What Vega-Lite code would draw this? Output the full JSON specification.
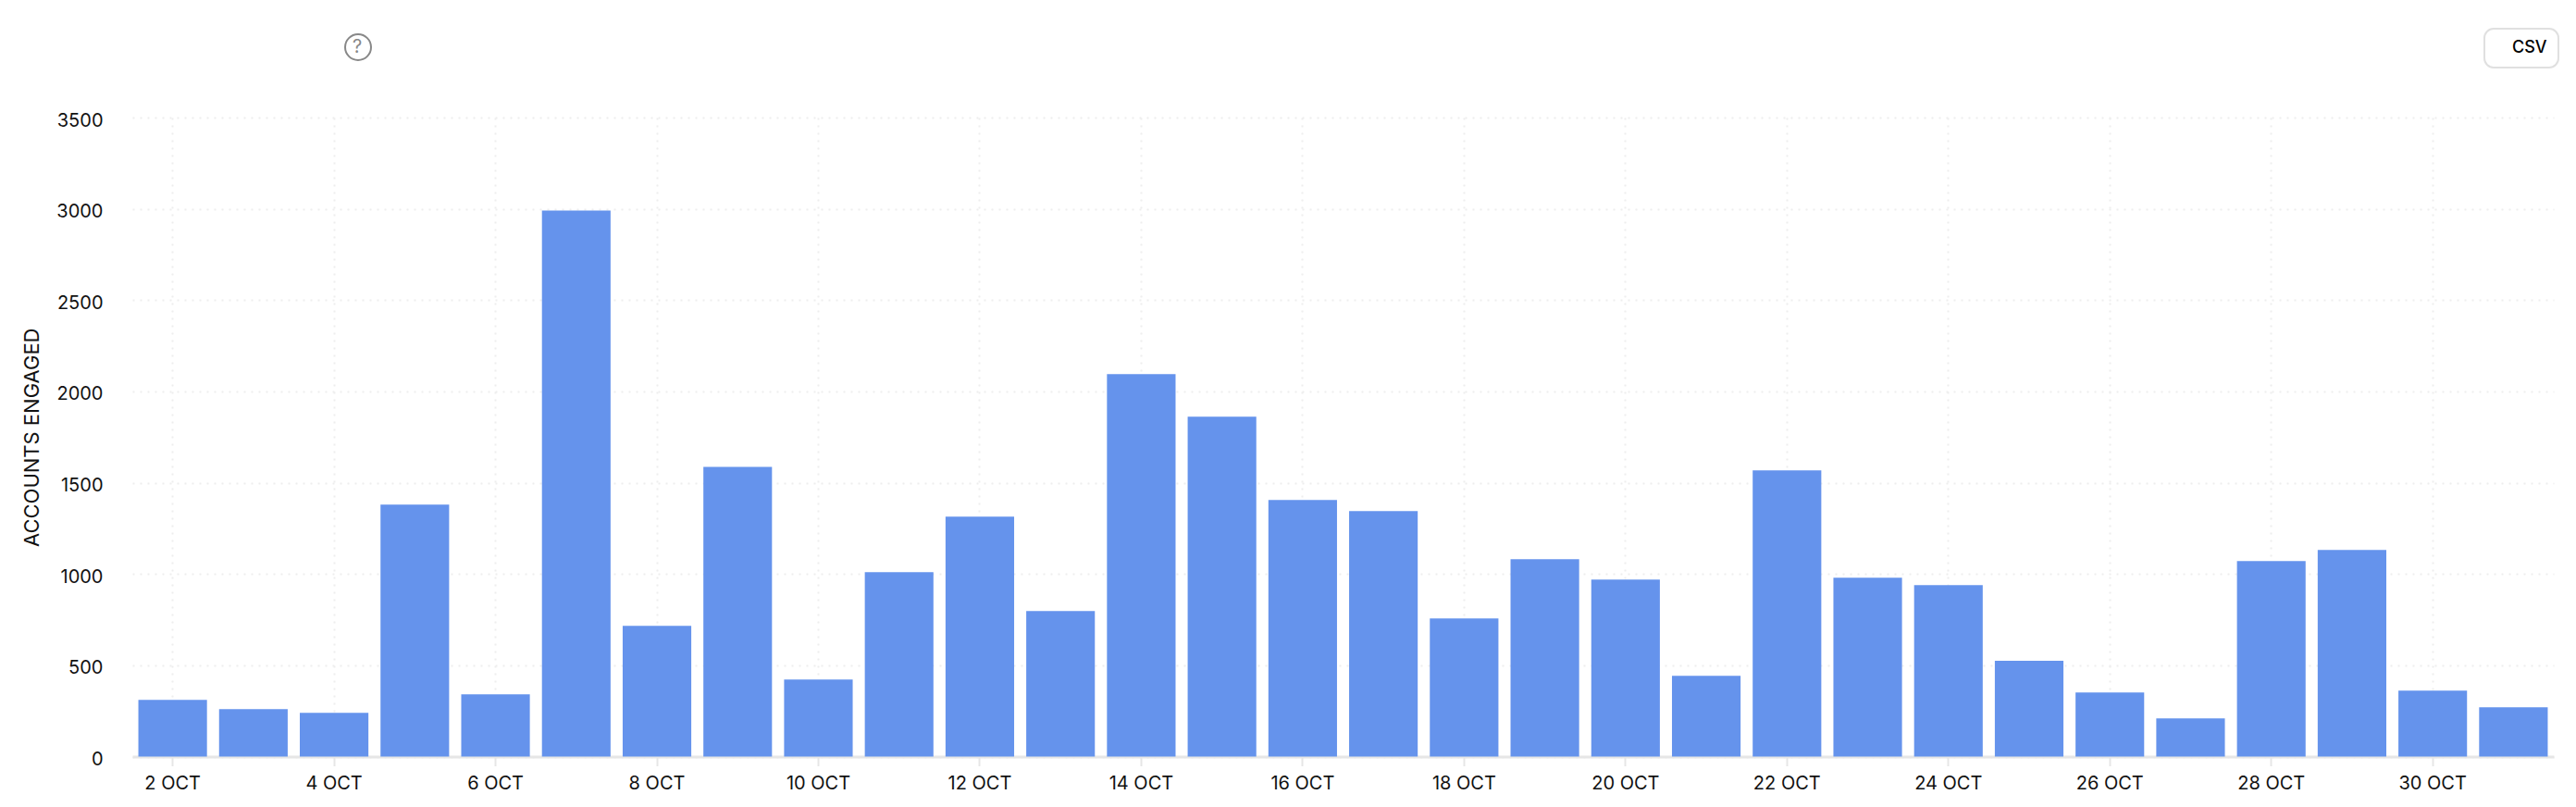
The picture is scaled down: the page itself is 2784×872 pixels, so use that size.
{"width":2617,"height":690.5,"autosize":"none","padding":{"left":143,"top":127,"right":24,"bottom":54},"background":"white",
"config":{"legend":{"strokeWidth":2},"view":{"stroke":null}},
"title":{"text":"Accounts Engaged","anchor":"start","frame":"group","baseline":"alphabetic","offset":0,"dx":-133,"dy":-66,"font":"Inter","fontSize":36,"fontWeight":600,"color":"#000000"},
"data":{"values":[
{"date":"2 OCT","v":311,"button":"CSV","help":"?","range":"2 Oct 2023 → 31 Oct 2023"},{"date":"3 OCT","v":260,"button":"CSV","help":"?","range":"2 Oct 2023 → 31 Oct 2023"},{"date":"4 OCT","v":240,"button":"CSV","help":"?","range":"2 Oct 2023 → 31 Oct 2023"},{"date":"5 OCT","v":1380,"button":"CSV","help":"?","range":"2 Oct 2023 → 31 Oct 2023"},{"date":"6 OCT","v":341,"button":"CSV","help":"?","range":"2 Oct 2023 → 31 Oct 2023"},{"date":"7 OCT","v":2990,"button":"CSV","help":"?","range":"2 Oct 2023 → 31 Oct 2023"},{"date":"8 OCT","v":716,"button":"CSV","help":"?","range":"2 Oct 2023 → 31 Oct 2023"},{"date":"9 OCT","v":1587,"button":"CSV","help":"?","range":"2 Oct 2023 → 31 Oct 2023"},{"date":"10 OCT","v":422,"button":"CSV","help":"?","range":"2 Oct 2023 → 31 Oct 2023"},{"date":"11 OCT","v":1010,"button":"CSV","help":"?","range":"2 Oct 2023 → 31 Oct 2023"},{"date":"12 OCT","v":1314,"button":"CSV","help":"?","range":"2 Oct 2023 → 31 Oct 2023"},{"date":"13 OCT","v":797,"button":"CSV","help":"?","range":"2 Oct 2023 → 31 Oct 2023"},{"date":"14 OCT","v":2095,"button":"CSV","help":"?","range":"2 Oct 2023 → 31 Oct 2023"},{"date":"15 OCT","v":1862,"button":"CSV","help":"?","range":"2 Oct 2023 → 31 Oct 2023"},{"date":"16 OCT","v":1405,"button":"CSV","help":"?","range":"2 Oct 2023 → 31 Oct 2023"},{"date":"17 OCT","v":1345,"button":"CSV","help":"?","range":"2 Oct 2023 → 31 Oct 2023"},{"date":"18 OCT","v":757,"button":"CSV","help":"?","range":"2 Oct 2023 → 31 Oct 2023"},{"date":"19 OCT","v":1081,"button":"CSV","help":"?","range":"2 Oct 2023 → 31 Oct 2023"},{"date":"20 OCT","v":970,"button":"CSV","help":"?","range":"2 Oct 2023 → 31 Oct 2023"},{"date":"21 OCT","v":442,"button":"CSV","help":"?","range":"2 Oct 2023 → 31 Oct 2023"},{"date":"22 OCT","v":1568,"button":"CSV","help":"?","range":"2 Oct 2023 → 31 Oct 2023"},{"date":"23 OCT","v":980,"button":"CSV","help":"?","range":"2 Oct 2023 → 31 Oct 2023"},{"date":"24 OCT","v":939,"button":"CSV","help":"?","range":"2 Oct 2023 → 31 Oct 2023"},{"date":"25 OCT","v":524,"button":"CSV","help":"?","range":"2 Oct 2023 → 31 Oct 2023"},{"date":"26 OCT","v":351,"button":"CSV","help":"?","range":"2 Oct 2023 → 31 Oct 2023"},{"date":"27 OCT","v":209,"button":"CSV","help":"?","range":"2 Oct 2023 → 31 Oct 2023"},{"date":"28 OCT","v":1071,"button":"CSV","help":"?","range":"2 Oct 2023 → 31 Oct 2023"},{"date":"29 OCT","v":1132,"button":"CSV","help":"?","range":"2 Oct 2023 → 31 Oct 2023"},{"date":"30 OCT","v":361,"button":"CSV","help":"?","range":"2 Oct 2023 → 31 Oct 2023"},{"date":"31 OCT","v":270,"button":"CSV","help":"?","range":"2 Oct 2023 → 31 Oct 2023"}
]},
"mark":{"type":"bar"},
"encoding":{
"x":{"field":"date","type":"nominal","sort":null,"scale":{"paddingInner":0.15,"paddingOuter":0.075},
"axis":{"title":null,"values":["2 OCT","4 OCT","6 OCT","8 OCT","10 OCT","12 OCT","14 OCT","16 OCT","18 OCT","20 OCT","22 OCT","24 OCT","26 OCT","28 OCT","30 OCT"],"labelAngle":0,"labelFont":"Inter","labelFontSize":20,"labelColor":"#111111","labelPadding":9,"tickColor":"#e6e6e6","tickSize":10,"tickWidth":2,"domainColor":"#e6e6e6","domainWidth":3,"grid":true,"gridColor":"#eeeeee","gridWidth":2,"gridDash":[2,6]}},
"y":{"field":"v","type":"quantitative","scale":{"domain":[0,3500],"nice":false},
"axis":{"title":"ACCOUNTS ENGAGED","titleFont":"Inter","titleFontSize":22,"titleFontWeight":400,"titleColor":"#111111","titlePadding":14,"values":[0,500,1000,1500,2000,2500,3000,3500],"labelFont":"Inter","labelFontSize":20,"labelColor":"#111111","labelPadding":32,"labelOffset":3,"format":"d","ticks":false,"tickSize":0,"domain":false,"grid":true,"gridColor":"#eeeeee","gridWidth":2,"gridDash":[2,6]}},
"color":{"field":"button","type":"nominal","scale":{"range":["#6593ec"]},
"legend":{"orient":"none","legendX":2542,"legendY":-96,"title":null,"strokeColor":"#e0e0e0","cornerRadius":10,"padding":12,"symbolSize":0,"symbolStrokeWidth":0,"labelFont":"Inter","labelFontSize":18,"labelFontWeight":500,"labelColor":"#000000","labelOffset":0}},
"opacity":{"field":"help","type":"nominal","scale":{"range":[1]},
"legend":{"orient":"none","legendX":229,"legendY":-91,"title":null,"symbolType":"circle","symbolSize":784,"symbolFillColor":"transparent","symbolStrokeColor":"#888888","symbolStrokeWidth":2,"labelFont":"Inter","labelFontSize":20,"labelColor":"#888888","labelOffset":-21}},
"fillOpacity":{"field":"range","type":"nominal","scale":{"range":[1]},
"legend":{"orient":"none","legendX":281,"legendY":-95,"title":null,"symbolSize":0,"symbolStrokeWidth":0,"symbolFillColor":"transparent","labelFont":"Inter","labelFontSize":31,"labelFontWeight":500,"labelColor":"#999999","labelOffset":0,"labelLimit":600}}
}}
